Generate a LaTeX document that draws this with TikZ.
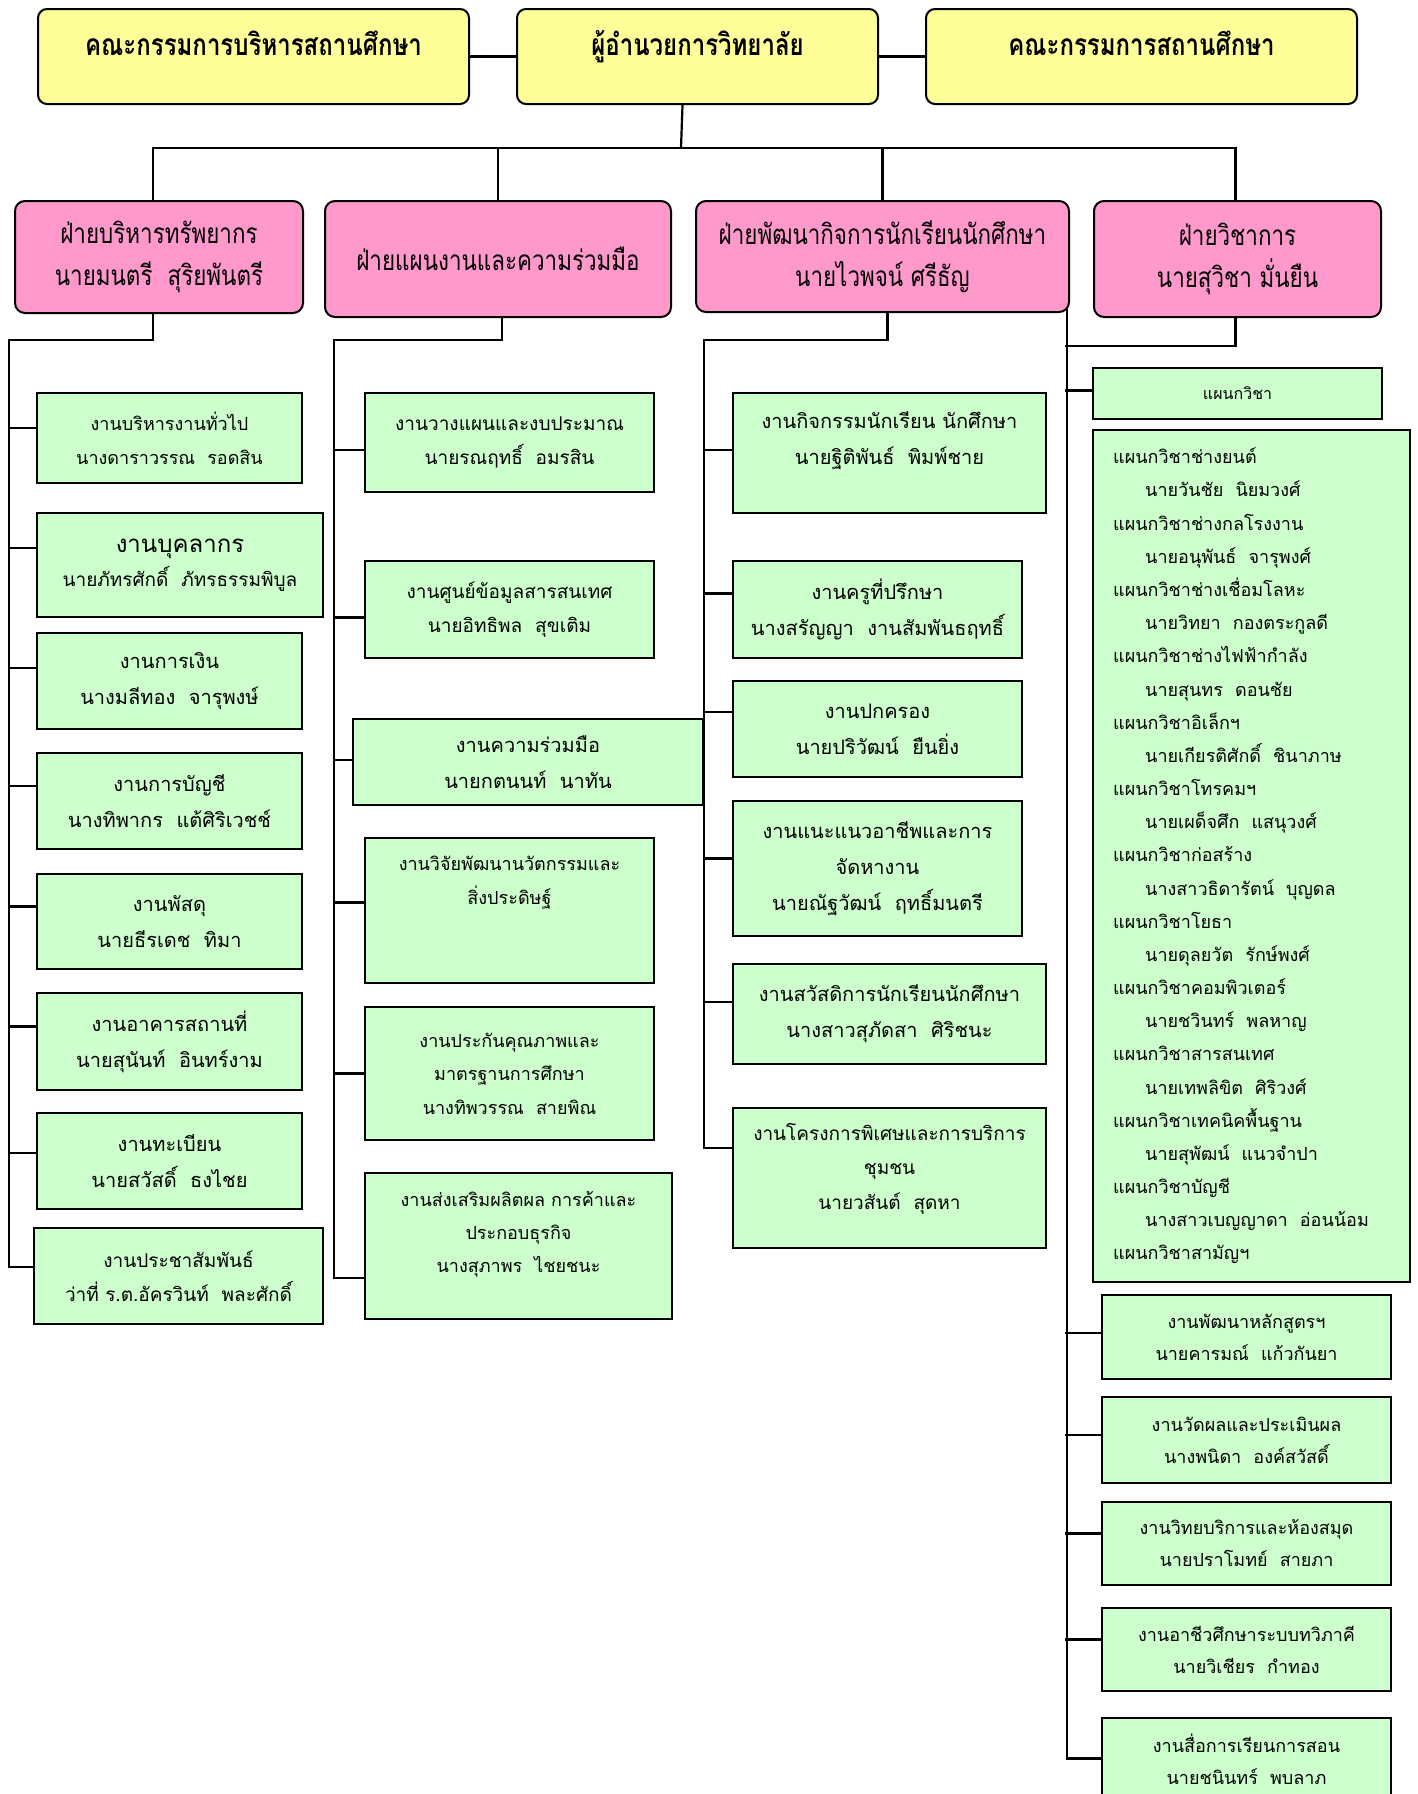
\documentclass[tikz,border=0pt]{standalone}
\usepackage{fontspec}
\newfontfamily\thf[Script=Thai]{Loma}
\newfontfamily\thc[Script=Thai,FakeStretch=0.8]{Loma}
\usetikzlibrary{calc}
\definecolor{ylw}{HTML}{FFFF99}
\definecolor{pnk}{HTML}{FF99CC}
\definecolor{grn}{HTML}{CCFFCC}
\newcommand\dn[1]{\rule[-#1pt]{0pt}{0pt}}
\newcommand\fs[2]{\fontsize{#1}{#2}\selectfont}
\newcommand\orgbox[7]{\node[#1,anchor=north west,minimum width={(#5-#3)*1pt},minimum height={(#6-#4)*1pt}] (#2) at (#3,#4) {#7};}
\begin{document}
\begin{tikzpicture}[x=1pt,y=-1pt,
  ybox/.style={draw, fill=ylw, rounded corners=9pt, line width=2pt, align=center, inner sep=2pt, font=\thc\bfseries\fs{30}{36}},
  pbox/.style={draw, fill=pnk, rounded corners=10pt, line width=2pt, align=center, inner sep=2pt, font=\thc\fs{28}{42}},
  gbox/.style={draw, fill=grn, line width=2pt, align=center, inner sep=2pt, font=\thf\fs{19}{34}},
  listtext/.style={align=left, inner sep=0pt, font=\thf\fs{18}{33.17}},
  conn/.style={line width=2.2pt}]
\path[use as bounding box] (0,0) rectangle (1417,1794);
\clip (0,0) rectangle (1417,1794);

% top row
\orgbox{ybox}{yl}{37}{8}{468}{103}{คณะกรรมการบริหารสถานศึกษา\dn{27}}
\orgbox{ybox}{top}{516}{8}{877}{103}{ผู้อำนวยการวิทยาลัย\dn{27}}
\orgbox{ybox}{yr}{925}{8}{1356}{103}{คณะกรรมการสถานศึกษา\dn{27}}

% divisions
\orgbox{pbox}{p1}{14}{200}{302}{312}{ฝ่ายบริหารทรัพยากร\\นายมนตรี~~สุริยพันตรี}
\orgbox{pbox}{p2}{324}{200}{670}{316}{ฝ่ายแผนงานและความร่วมมือ}
\orgbox{pbox}{p3}{695}{200}{1068}{311}{ฝ่ายพัฒนากิจการนักเรียนนักศึกษา\\นายไวพจน์~ศรีธัญ}
\orgbox{pbox}{p4}{1093}{200}{1380}{316}{ฝ่ายวิชาการ\\นายสุวิชา~มั่นยืน}

% column 1
\orgbox{gbox,font=\thf\fs{18}{34}}{b1}{36}{392}{301}{482}{งานบริหารงานทั่วไป\\นางดาราวรรณ~~รอดสิน}
\orgbox{gbox}{b2}{36}{512}{322}{616}{{\fs{24}{30}งานบุคลากร}\\นายภัทรศักดิ์~~ภัทรธรรมพิบูล}
\orgbox{gbox,font=\thf\fs{20}{36}}{b3}{36}{632}{301}{728}{งานการเงิน\\นางมลีทอง~~จารุพงษ์}
\orgbox{gbox,font=\thf\fs{20}{36}}{b4}{36}{752}{301}{848}{งานการบัญชี\\นางทิพากร~~แต้ศิริเวชช์}
\orgbox{gbox,font=\thf\fs{20}{36}}{b5}{36}{873}{301}{968}{งานพัสดุ\\นายธีรเดช~~ทิมา}
\orgbox{gbox,font=\thf\fs{20}{36}}{b6}{36}{992}{301}{1089}{งานอาคารสถานที่\\นายสุนันท์~~อินทร์งาม}
\orgbox{gbox,font=\thf\fs{20}{36}}{b7}{36}{1112}{301}{1208}{งานทะเบียน\\นายสวัสดิ์~~ธงไชย}
\orgbox{gbox}{b8}{33}{1227}{322}{1323}{งานประชาสัมพันธ์\\ว่าที่ ร.ต.อัครวินท์~~พละศักดิ์}

% column 2
\orgbox{gbox}{c1}{364}{392}{653}{491}{งานวางแผนและงบประมาณ\\นายรณฤทธิ์~~อมรสิน}
\orgbox{gbox}{c2}{364}{560}{653}{657}{งานศูนย์ข้อมูลสารสนเทศ\\นายอิทธิพล~~สุขเติม}
\orgbox{gbox,font=\thf\fs{20}{36}}{c3}{352}{718}{702}{804}{งานความร่วมมือ\\นายกตนนท์~~นาทัน}
\orgbox{gbox,font=\thf\fs{18}{34}}{c4}{364}{837}{653}{982}{งานวิจัยพัฒนานวัตกรรมและ\\สิ่งประดิษฐ์\dn{60}}
\orgbox{gbox,font=\thf\fs{18}{33.5}}{c5}{364}{1006}{653}{1139}{งานประกันคุณภาพและ\\มาตรฐานการศึกษา\\นางทิพวรรณ~~สายพิณ}
\orgbox{gbox,font=\thf\fs{18}{33}}{c6}{364}{1172}{671}{1318}{งานส่งเสริมผลิตผล การค้าและ\\ประกอบธุรกิจ\\นางสุภาพร~~ไชยชนะ\dn{28}}

% column 3
\orgbox{gbox,font=\thf\fs{20}{36}}{d1}{732}{392}{1045}{512}{งานกิจกรรมนักเรียน นักศึกษา\\นายฐิติพันธ์~~พิมพ์ชาย\dn{30}}
\orgbox{gbox,font=\thf\fs{20}{36}}{d2}{732}{560}{1021}{657}{งานครูที่ปรึกษา\\นางสรัญญา~~งานสัมพันธฤทธิ์}
\orgbox{gbox,font=\thf\fs{20}{36}}{d3}{732}{680}{1021}{776}{งานปกครอง\\นายปริวัฒน์~~ยืนยิ่ง}
\orgbox{gbox,font=\thf\fs{20}{36}}{d4}{732}{800}{1021}{935}{งานแนะแนวอาชีพและการ\\จัดหางาน\\นายณัฐวัฒน์~~ฤทธิ์มนตรี}
\orgbox{gbox,font=\thf\fs{20}{36}}{d5}{732}{963}{1045}{1063}{งานสวัสดิการนักเรียนนักศึกษา\\นางสาวสุภัดสา~~ศิริชนะ}
\orgbox{gbox,font=\thf\fs{19}{34.5}}{d6}{732}{1107}{1045}{1247}{งานโครงการพิเศษและการบริการ\\ชุมชน\\นายวสันต์~~สุดหา\dn{24}}

% column 4
\orgbox{gbox,font=\thf\fs{16}{20}}{e0}{1092}{367}{1381}{418}{แผนกวิชา}
\orgbox{gbox}{e1}{1092}{429}{1409}{1281}{}
\node[listtext,anchor=west] (e1t) at ([xshift=21pt]e1.west) {%
แผนกวิชาช่างยนต์\\
\hspace*{32pt}นายวันชัย~~นิยมวงศ์\\
แผนกวิชาช่างกลโรงงาน\\
\hspace*{32pt}นายอนุพันธ์~~จารุพงศ์\\
แผนกวิชาช่างเชื่อมโลหะ\\
\hspace*{32pt}นายวิทยา~~กองตระกูลดี\\
แผนกวิชาช่างไฟฟ้ากำลัง\\
\hspace*{32pt}นายสุนทร~~ดอนชัย\\
แผนกวิชาอิเล็กฯ\\
\hspace*{32pt}นายเกียรติศักดิ์~~ชินาภาษ\\
แผนกวิชาโทรคมฯ\\
\hspace*{32pt}นายเผด็จศึก~~แสนุวงศ์\\
แผนกวิชาก่อสร้าง\\
\hspace*{32pt}นางสาวธิดารัตน์~~บุญดล\\
แผนกวิชาโยธา\\
\hspace*{32pt}นายดุลยวัต~~รักษ์พงศ์\\
แผนกวิชาคอมพิวเตอร์\\
\hspace*{32pt}นายชวินทร์~~พลหาญ\\
แผนกวิชาสารสนเทศ\\
\hspace*{32pt}นายเทพลิขิต~~ศิริวงศ์\\
แผนกวิชาเทคนิคพื้นฐาน\\
\hspace*{32pt}นายสุพัฒน์~~แนวจำปา\\
แผนกวิชาบัญชี\\
\hspace*{32pt}นางสาวเบญญาดา~~อ่อนน้อม\\
แผนกวิชาสามัญฯ};
\orgbox{gbox,font=\thf\fs{18}{32}}{f1}{1101}{1294}{1390}{1378}{งานพัฒนาหลักสูตรฯ\\นายคารมณ์~~แก้วกันยา}
\orgbox{gbox,font=\thf\fs{18}{32}}{f2}{1101}{1396}{1390}{1482}{งานวัดผลและประเมินผล\\นางพนิดา~~องค์สวัสดิ์}
\orgbox{gbox,font=\thf\fs{18}{32}}{f3}{1101}{1501}{1390}{1584}{งานวิทยบริการและห้องสมุด\\นายปราโมทย์~~สายภา}
\orgbox{gbox,font=\thf\fs{18}{32}}{f4}{1101}{1607}{1390}{1690}{งานอาชีวศึกษาระบบทวิภาคี\\นายวิเชียร~~กำทอง}
\orgbox{gbox,font=\thf\fs{18}{32}}{f5}{1101}{1717}{1390}{1830}{งานสื่อการเรียนการสอน\\นายชนินทร์~~พบลาภ\dn{30}}

% connectors: top
\draw[conn] (yl) -- (top);
\draw[conn] (top) -- (yr);
\coordinate (bus) at (681,148);
\draw[conn] ([xshift=-15pt]top.south) -- (bus);
\draw[conn] ([xshift=-6pt]p1.north) |- (bus) -| ([xshift=-2pt]p4.north);
\draw[conn] (p2.north) -- (p2.north |- bus);
\draw[conn] (p3.north) -- (p3.north |- bus);

% column 1
\coordinate (j1) at (9,340);
\draw[conn] ([xshift=-6pt]p1.south) |- (j1) |- ([yshift=9pt]b8.west);
\foreach \b/\s in {b1/10,b2/17,b3/13,b4/15,b5/15,b6/15,b7/8}
  \draw[conn] ([yshift=\s pt]\b.west) coordinate (tmp) -- (j1 |- tmp);

% column 2
\coordinate (j2) at (334,340);
\draw[conn] ([xshift=4pt]p2.south) |- (j2) |- ([yshift=-32pt]c6.west);
\foreach \b/\s in {c1/-7.5,c2/-8,c3/2,c4/8,c5/0}
  \draw[conn] ([yshift=\s pt]\b.west) coordinate (tmp) -- (j2 |- tmp);

% column 3
\coordinate (j3) at (704,340);
\draw[conn] ([xshift=5pt]p3.south) |- (j3) |- ([yshift=30pt]d6.west);
\foreach \b/\s in {d1/3,d2/16,d3/17,d4/10,d5/12}
  \draw[conn] ([yshift=\s pt]\b.west) coordinate (tmp) -- (j3 |- tmp);

% column 4
\coordinate (j4) at (1065,346);
\draw[conn] ([xshift=-3pt,yshift=4pt]p3.south east) |- ([yshift=16pt]f5.west);
\draw[conn] ([xshift=-2pt]p4.south) |- (j4);
\foreach \b/\s in {e0/3,f1/4,f2/5,f3/10,f4/10}
  \draw[conn] ([yshift=\s pt]\b.west) coordinate (tmp) -- (j4 |- tmp);
\end{tikzpicture}
\end{document}
